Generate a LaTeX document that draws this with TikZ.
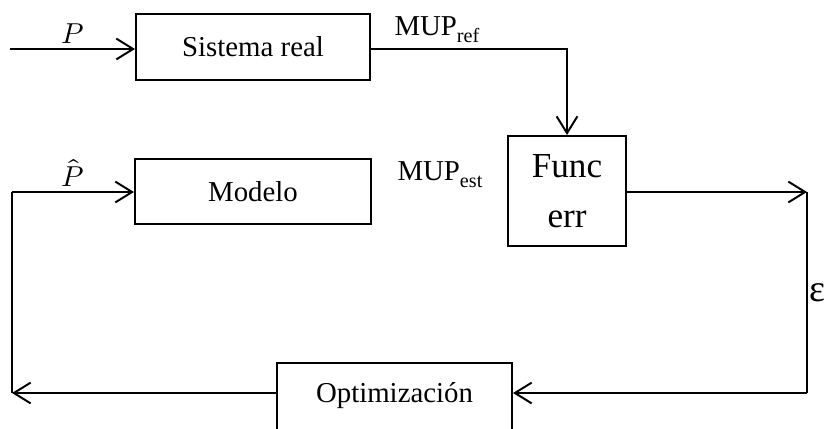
\documentclass[tikz,border=0pt]{standalone}
\usepackage{fontspec}
\usepackage{unicode-math}
\setmainfont{Liberation Serif}
\usetikzlibrary{arrows.meta,positioning,calc}

\begin{document}
\begin{tikzpicture}[
  x=0.025cm, y=-0.025cm,
  bx/.style={draw, line width=1.4pt, inner sep=0pt,
             font=\fontsize{20.5}{24}\selectfont, align=center},
  lbl/.style={font=\fontsize{20.5}{24}\selectfont, inner sep=3pt},
  ar/.style={-{Straight Barb[length=4.2mm, width=5.2mm]}, line width=1.4pt}
]
  \useasboundingbox (0,0) rectangle (826,428);

  \node[bx, minimum width=5.85cm, minimum height=1.65cm] (sis) at (253,47) {Sistema real};
  \node[bx, minimum width=5.9cm, minimum height=1.625cm, below=1.93cm of sis] (mod) {Modelo};
  \node[bx, minimum width=2.95cm, minimum height=2.75cm,
        font=\fontsize{25}{35.5}\selectfont] (fun) at (567,191) {Func\\err};
  \node[bx, minimum width=5.875cm, text height=0.975cm, text depth=0.95cm,
        anchor=base] (opt) at (394.5,402) {Optimización};

  \node[lbl, anchor=base west] (mref) at (390,35) {MUP\textsubscript{ref}};
  \node[lbl, anchor=base west] (mest) at (393,180) {MUP\textsubscript{est}};

  \coordinate (pin) at (10,49);
  \coordinate (rt) at (807,192);
  \coordinate (rb) at (807,393);
  \coordinate (ld) at (12,393);
  \coordinate (lu) at (12,192);

  \draw[ar] (pin) -- node[lbl, above] {$P$} (pin -| sis.west);
  \draw[ar] (sis.east |- pin) -| (fun.north);
  \draw[ar] (fun.east |- rt) -- (rt);
  \draw[line width=1.4pt] (rt) -- node[lbl, right, inner sep=1pt,
        font=\fontsize{27}{30}\selectfont] {ε} (rb);
  \draw[ar] (rb) -- (rb -| opt.east);
  \draw[ar] (rb -| opt.west) -- (ld);
  \draw[line width=1.4pt] (ld) -- (lu);
  \draw[ar] (lu) -- node[lbl, above] {$\hat{P}$} (lu -| mod.west);
\end{tikzpicture}
\end{document}
